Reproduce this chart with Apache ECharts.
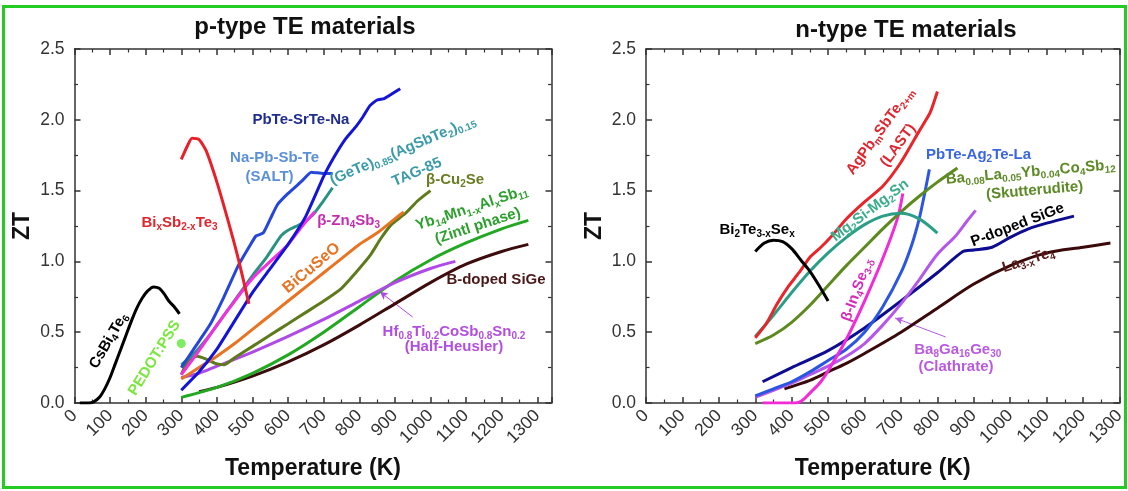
<!DOCTYPE html>
<html><head><meta charset="utf-8">
<script src="https://cdn.jsdelivr.net/npm/echarts@6/dist/echarts.min.js"></script>
<style>html,body{margin:0;padding:0;background:#fff}#c{width:1128px;height:491px}</style>
</head><body><div id="c"></div>
<script>
// ---------- p-type data: [T (K), ZT] ----------
const pCsBi4Te6 = [[15,0],[40,0],[55,0.01],[70,0.04],[85,0.1],[100,0.18],[115,0.28],[130,0.38],[145,0.48],[160,0.58],[175,0.67],[190,0.74],[205,0.79],[222,0.82],[238,0.81],[252,0.77],[265,0.72],[280,0.68],[295,0.63]];
const pPedot = [[300,0.42]];
const pBiSbTe = [[300,1.72],[318,1.82],[330,1.87],[350,1.86],[370,1.78],[400,1.56],[430,1.3],[460,1.02],[490,0.7]];
const pPbTeSrTeNa = [[300,0.09],[350,0.22],[400,0.38],[450,0.58],[500,0.78],[550,0.95],[600,1.12],[650,1.32],[700,1.6],[730,1.74],[760,1.86],[790,1.95],[810,2.02],[830,2.1],[850,2.14],[870,2.15],[890,2.18],[915,2.22]];
const pSALT = [[300,0.25],[340,0.4],[380,0.55],[420,0.75],[460,0.97],[490,1.1],[510,1.18],[530,1.2],[550,1.3],[570,1.4],[600,1.48],[640,1.57],[665,1.63],[700,1.62],[725,1.62]];
const pTAGS = [[300,0.27],[340,0.36],[380,0.48],[420,0.62],[460,0.76],[500,0.9],[540,1.03],[580,1.18],[600,1.22],[640,1.27],[670,1.33],[700,1.43],[725,1.52]];
const pZn4Sb3 = [[300,0.2],[350,0.37],[400,0.55],[450,0.72],[500,0.88],[550,1.0],[600,1.12],[640,1.25],[675,1.35]];
const pBiCuSeO = [[300,0.17],[350,0.25],[400,0.33],[450,0.42],[500,0.52],[550,0.62],[600,0.72],[650,0.82],[700,0.92],[750,1.02],[800,1.12],[850,1.2],[900,1.3],[925,1.35]];
const pCu2Se = [[300,0.2],[320,0.3],[345,0.33],[370,0.31],[395,0.28],[420,0.27],[450,0.32],[500,0.4],[550,0.48],[600,0.56],[650,0.64],[700,0.72],[750,0.81],[790,0.92],[830,1.04],[860,1.16],[890,1.26],[930,1.34],[965,1.43],[1000,1.5]];
const pYb14 = [[300,0.04],[400,0.11],[500,0.21],[600,0.34],[700,0.5],[800,0.68],[900,0.86],[1000,1.01],[1100,1.13],[1200,1.23],[1275,1.29]];
const pSiGeB = [[350,0.08],[400,0.11],[500,0.19],[600,0.29],[700,0.41],[800,0.55],[900,0.7],[1000,0.85],[1100,0.98],[1200,1.07],[1275,1.12]];
const pHalfHeusler = [[300,0.18],[350,0.21],[400,0.26],[500,0.36],[600,0.47],[700,0.59],[800,0.72],[900,0.85],[1000,0.95],[1070,1.0]];

// ---------- n-type data ----------
const nBi2Te3Se = [[300,1.07],[325,1.13],[350,1.15],[375,1.14],[400,1.09],[425,1.01],[450,0.93],[475,0.83],[500,0.72]];
const nLAST = [[300,0.46],[330,0.56],[360,0.7],[390,0.82],[420,0.92],[450,1.03],[480,1.1],[510,1.18],[550,1.3],[600,1.42],[650,1.53],[700,1.7],[750,1.92],[780,2.05],[800,2.2]];
const nMg2Si = [[300,0.47],[350,0.62],[400,0.78],[450,0.93],[500,1.06],[550,1.17],[600,1.26],[650,1.32],[700,1.34],[750,1.3],[800,1.2]];
const nSkutt = [[300,0.42],[350,0.48],[400,0.57],[450,0.69],[500,0.83],[550,0.97],[600,1.1],[650,1.23],[700,1.35],[750,1.46],[800,1.56],[855,1.66]];
const nPbTeAg2Te = [[300,0.05],[350,0.1],[400,0.15],[450,0.22],[500,0.3],[550,0.38],[600,0.5],[650,0.68],[700,0.92],[730,1.12],[750,1.3],[765,1.48],[778,1.65]];
const nIn4Se3 = [[320,0],[360,0],[410,0],[430,0.02],[450,0.07],[480,0.15],[510,0.27],[550,0.45],[600,0.72],[650,1.02],[690,1.3],[705,1.48]];
const nBa8Ga16Ge30 = [[300,0.04],[350,0.09],[400,0.14],[450,0.2],[500,0.26],[550,0.33],[600,0.42],[650,0.55],[700,0.7],[750,0.87],[800,1.05],[850,1.18],[880,1.28],[905,1.36]];
const nSiGeP = [[320,0.15],[400,0.25],[500,0.37],[600,0.53],[700,0.72],[800,0.92],[870,1.07],[900,1.08],[950,1.1],[1000,1.17],[1050,1.23],[1100,1.27],[1175,1.32]];
const nLa3Te4 = [[380,0.1],[450,0.16],[500,0.22],[550,0.28],[600,0.35],[700,0.5],[800,0.67],[900,0.84],[1000,0.97],[1100,1.06],[1200,1.1],[1275,1.13]];

const FONT = '"Liberation Sans", Arial, Helvetica, sans-serif';

function line(g, data, color, smooth) {
  return {type:'line', xAxisIndex:g*2, yAxisIndex:g*2, data:data, showSymbol:false, symbol:'none',
    smooth: smooth === undefined ? 0.3 : smooth, lineStyle:{color:color, width:3}, z:5};
}
function arrow(color, from, to) {
  return {silent:true, symbol:['none','arrow'], symbolSize:[6,8], animation:false,
    lineStyle:{color:color, width:1, type:'solid'}, label:{show:false}, emphasis:{disabled:true},
    data:[[{coord:from},{coord:to}]]};
}

const axisCommon = {
  type:'value', splitLine:{show:false},
  axisLine:{show:true, onZero:false, lineStyle:{color:'#333', width:1.5}},
  axisTick:{show:true, inside:true, length:6, lineStyle:{color:'#333', width:1.5}},
  minorTick:{show:true, splitNumber:2, length:3.5, lineStyle:{color:'#333', width:1.2}}
};
function xAx(g, max, pos) {
  return Object.assign({}, axisCommon, {gridIndex:g, min:0, max:max, interval:100, position:pos,
    axisLabel: pos==='bottom' ? {show:true, rotate:45, fontSize:17.5, color:'#333', margin:10, fontFamily:FONT,
      showMaxLabel: max % 100 === 0, formatter: v => String(Math.round(v))} : {show:false},
    name: pos==='bottom' ? 'Temperature (K)' : '', nameLocation:'middle', nameGap:54,
    nameTextStyle:{fontSize:23, fontWeight:'bold', color:'#111', fontFamily:FONT}});
}
function yAx(g, pos) {
  return Object.assign({}, axisCommon, {gridIndex:g, min:0, max:2.5, interval:0.5, position:pos,
    axisLabel: pos==='left' ? {show:true, fontSize:17.5, color:'#333', margin:10, fontFamily:FONT, formatter:v=>v.toFixed(1)} : {show:false},
    name: pos==='left' ? 'ZT' : '', nameLocation:'middle', nameGap:40, nameRotate:90,
    nameTextStyle:{fontSize:23, fontWeight:'bold', color:'#111', fontFamily:FONT}});
}

const hh = line(0, pHalfHeusler, '#b04ae6');
hh.markLine = arrow('#b04ae6', [950,0.607], [858,0.785]);
const ba8 = line(1, nBa8Ga16Ge30, '#b458ea');
ba8.markLine = arrow('#b458ea', [823,0.466], [684,0.6]);

const option = {
  animation:false,
  backgroundColor:'#fff',
  grid:[{left:74.5, top:49, width:477, height:354}, {left:646, top:49, width:480, height:354}],
  xAxis:[xAx(0,1340,'bottom'), xAx(0,1340,'top'), xAx(1,1300,'bottom'), xAx(1,1300,'top')],
  yAxis:[yAx(0,'left'), yAx(0,'right'), yAx(1,'left'), yAx(1,'right')],
  series:[
    line(0, pCsBi4Te6, '#000000'),
    {type:'scatter', xAxisIndex:0, yAxisIndex:0, data:pPedot, symbolSize:9, itemStyle:{color:'#5ee83a'}},
    line(0, pSiGeB, '#3d0c0c'),
    line(0, pYb14, '#22a822'),
    hh,
    line(0, pCu2Se, '#5f7a1c', 0.2),
    line(0, pBiCuSeO, '#ea7322', 0.2),
    line(0, pTAGS, '#2a9282', 0.2),
    line(0, pZn4Sb3, '#f52ee0'),
    line(0, pSALT, '#2546da', 0.15),
    line(0, pPbTeSrTeNa, '#1414d8', 0.15),
    line(0, pBiSbTe, '#e8202a', 0.2),
    line(1, nLa3Te4, '#3a0a0a'),
    line(1, nSiGeP, '#0d0d92', 0.25),
    ba8,
    line(1, nPbTeAg2Te, '#2a56e2'),
    line(1, nIn4Se3, '#f22ad8'),
    line(1, nSkutt, '#5c8a1e'),
    line(1, nMg2Si, '#2a9e86'),
    line(1, nLAST, '#e8262a', 0.2),
    line(1, nBi2Te3Se, '#000000')
  ]
};

const chart = echarts.init(document.getElementById('c'));
chart.setOption(option);

// ---------- annotation labels (data coords) ----------
const labels = [
  {g:0,t:636,z:2.0,c:'#1f2d8c',text:'PbTe-SrTe-Na'},
  {g:0,t:562,z:1.73,c:'#5b8fd8',text:'Na-Pb-Sb-Te'},
  {g:0,t:548,z:1.596,c:'#5b8fd8',text:'(SALT)'},
  {g:0,t:922,z:1.785,c:'#3a9aa8',r:23,text:'(GeTe){s|0.85}(AgSbTe{s|2}){s|0.15}'},
  {g:0,t:962,z:1.63,c:'#3a9aa8',r:23,text:'TAG-85'},
  {g:0,t:1069,z:1.575,c:'#6b7b22',text:'β-Cu{s|2}Se'},
  {g:0,t:1116,z:1.377,c:'#2ca02c',r:18,text:'Yb{s|14}Mn{s|1-x}Al{s|x}Sb{s|11}'},
  {g:0,t:1133,z:1.25,c:'#2ca02c',r:18,text:'(Zintl phase)'},
  {g:0,t:1184,z:0.869,c:'#4a1818',text:'B-doped SiGe'},
  {g:0,t:1066,z:0.50,c:'#b34fe0',text:'Hf{s|0.8}Ti{s|0.2}CoSb{s|0.8}Sn{s|0.2}'},
  {g:0,t:1066,z:0.395,c:'#b34fe0',text:'(Half-Heusler)'},
  {g:0,t:770,z:1.285,c:'#c52db0',text:'β-Zn{s|4}Sb{s|3}'},
  {g:0,t:666,z:0.953,c:'#e87423',r:40,size:16,text:'BiCuSeO'},
  {g:0,t:295,z:1.27,c:'#e0262e',text:'Bi{s|x}Sb{s|2-x}Te{s|3}'},
  {g:0,t:96,z:0.44,c:'#000000',r:60,text:'CsBi{s|4}Te{s|6}'},
  {g:0,t:225,z:0.318,c:'#7ae63e',r:58,text:'PEDOT:PSS'},
  {g:1,t:305,z:1.22,c:'#000000',text:'Bi{s|2}Te{s|3-x}Se{s|x}'},
  {g:1,t:643,z:1.92,c:'#e0262e',r:54,text:'AgPb{s|m}SbTe{s|2+m}'},
  {g:1,t:692,z:1.82,c:'#e0262e',r:54,text:'(LAST)'},
  {g:1,t:913,z:1.75,c:'#3a66e0',text:'PbTe-Ag{s|2}Te-La'},
  {g:1,t:1056,z:1.63,c:'#5d8a26',r:5,text:'Ba{s|0.08}La{s|0.05}Yb{s|0.04}Co{s|4}Sb{s|12}'},
  {g:1,t:1067,z:1.50,c:'#5d8a26',r:5,text:'(Skutterudite)'},
  {g:1,t:615,z:1.36,c:'#3aae8a',r:37,text:'Mg{s|2}Si-Mg{s|2}Sn'},
  {g:1,t:580,z:0.80,c:'#d62ab8',r:70,text:'β-In{s|4}Se{s|3-δ}'},
  {g:1,t:1020,z:1.257,c:'#000000',r:21,text:'P-doped SiGe'},
  {g:1,t:1050,z:1.01,c:'#5a1a1a',r:18,text:'La{s|3-x}Te{s|4}'},
  {g:1,t:856,z:0.374,c:'#b95ae0',text:'Ba{s|8}Ga{s|16}Ge{s|30}'},
  {g:1,t:851,z:0.254,c:'#b95ae0',text:'(Clathrate)'}
];

const graphics = labels.map(l => {
  const p = chart.convertToPixel({gridIndex:l.g}, [l.t, l.z]);
  const fs = l.size || 15;
  return {type:'text', x:p[0], y:p[1], rotation:(l.r||0)*Math.PI/180, z:100,
    style:{text:l.text, fill:l.c, fontSize:fs, fontWeight:'bold', fontFamily:FONT,
      align:'center', verticalAlign:'middle', textAlign:'center', textVerticalAlign:'middle', lineHeight:19,
      rich:{s:{fontSize:10, fontWeight:'bold', fontFamily:FONT, fill:l.c, verticalAlign:'bottom', lineHeight:10}}}};
});
graphics.push(
  {type:'text', x:305, y:27, z:100, style:{text:'p-type TE materials', fill:'#111', fontSize:24, fontWeight:'bold', fontFamily:FONT, align:'center', verticalAlign:'middle', textAlign:'center', textVerticalAlign:'middle'}},
  {type:'text', x:906, y:30, z:100, style:{text:'n-type TE materials', fill:'#111', fontSize:24, fontWeight:'bold', fontFamily:FONT, align:'center', verticalAlign:'middle', textAlign:'center', textVerticalAlign:'middle'}},
  {type:'rect', z:200, shape:{x:3.5, y:6.5, width:1122, height:481}, style:{fill:'none', stroke:'#22cc22', lineWidth:3}}
);
chart.setOption({graphic:graphics});
</script></body></html>
